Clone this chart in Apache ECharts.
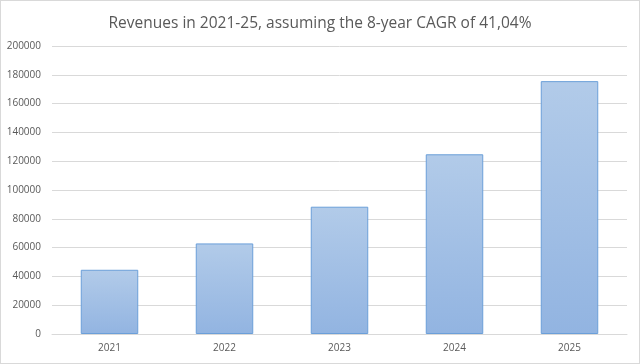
<!DOCTYPE html>
<html><head><meta charset="utf-8">
<script src="https://cdn.jsdelivr.net/npm/echarts@6/dist/echarts.min.js"></script>
<style>html,body{margin:0;padding:0;background:#fff}#c{width:638px;height:362px;border:1px solid #d9d9d9}</style>
</head><body><div id="c"></div>
<script>
const categories = ['2021','2022','2023','2024','2025'];
const revenues = [44600, 62900, 88400, 124800, 175600];
const yTicks = {min: 0, max: 200000, interval: 20000};
const titleText = 'Revenues in 2021-25, assuming the 8-year CAGR of 41,04%';

const chart = echarts.init(document.getElementById('c'));
chart.setOption({
  animation: false,
  title: {text: titleText, left: 'center', top: 10,
    textStyle: {fontFamily: 'Open Sans', fontSize: 15.5, fontWeight: 'normal', color: '#595959'}},
  grid: {left: 51, right: 12, top: 45, bottom: 29, containLabel: false},
  xAxis: {type: 'category', data: categories,
    axisLine: {lineStyle: {color: '#d9d9d9'}}, axisTick: {show: false},
    axisLabel: {color: '#595959', fontFamily: 'Open Sans', fontSize: 10, margin: 9}},
  yAxis: {type: 'value', min: yTicks.min, max: yTicks.max, interval: yTicks.interval,
    axisLine: {show: false}, axisTick: {show: false},
    splitLine: {lineStyle: {color: '#d9d9d9'}},
    axisLabel: {color: '#595959', fontFamily: 'Open Sans', fontSize: 10, margin: 11,
      formatter: v => String(v)}},
  series: [{type: 'bar', data: revenues, barWidth: '50%',
    itemStyle: {borderColor: '#6b9fd9', borderWidth: 1,
      color: new echarts.graphic.LinearGradient(0,0,0,1,[{offset:0,color:'#b2cbe9'},{offset:1,color:'#92b4e1'}])}}]
});
</script></body></html>
